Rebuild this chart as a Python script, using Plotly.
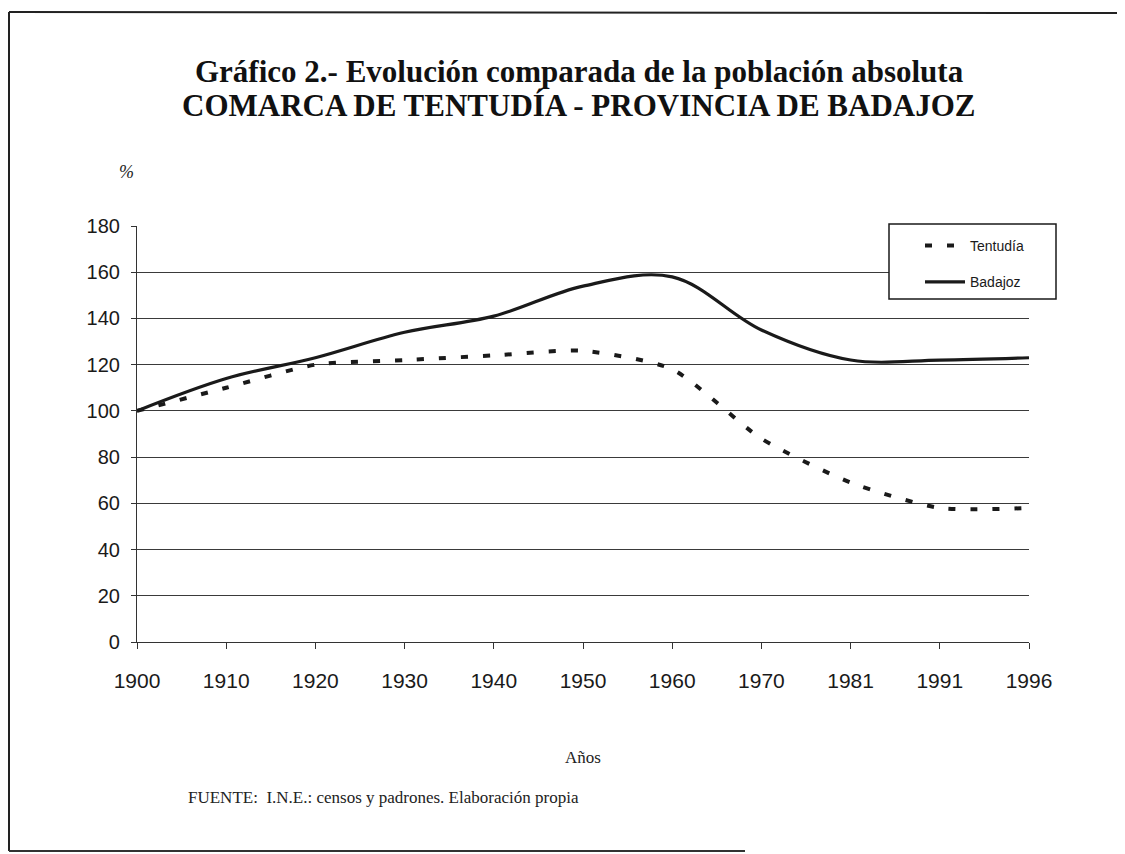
import plotly.graph_objects as go

# ---- data ----
years = ["1900", "1910", "1920", "1930", "1940", "1950", "1960", "1970", "1981", "1991", "1996"]
tentudia = [100, 110, 120, 122, 124, 126, 118, 88, 69, 58, 58]
badajoz = [100, 114, 123, 134, 141, 154, 158, 135, 122, 122, 123]
y_ticks = [0, 20, 40, 60, 80, 100, 120, 140, 160, 180]

# page has an 8px body margin; all positions below are in screenshot pixels
OFF = 8
W, H = 1125 - OFF, 854 - OFF
L, R, T, B = 137, 1029, 226, 642  # plot area (screenshot pixels)


def px(x):
    return (x - L) / (R - L)


def py(y):
    return (B - y) / (B - T)


fig = go.Figure()
fig.add_trace(go.Scatter(
    x=years, y=tentudia, name="Tentudía", mode="lines", legendgroup="t",
    line=dict(color="#1a1a1a", width=4, dash="7px,15px", shape="spline", smoothing=0.65),
    cliponaxis=False,
))
fig.add_trace(go.Scatter(
    x=years, y=badajoz, name="Badajoz", mode="lines", legendgroup="b",
    line=dict(color="#1a1a1a", width=3.2, shape="spline", smoothing=1.0),
    cliponaxis=False,
))

serif = "Liberation Serif, Times New Roman, serif"
sans = "Liberation Sans, Arial, sans-serif"

fig.update_layout(
    width=W, height=H,
    margin=dict(l=L - OFF, r=W - (R - OFF), t=T - OFF, b=H - (B - OFF), pad=0),
    paper_bgcolor="white", plot_bgcolor="white",
    showlegend=True,
    legend=dict(
        x=px(920), y=py(230), xanchor="left", yanchor="top",
        bgcolor="rgba(0,0,0,0)", borderwidth=0,
        font=dict(family=sans, size=14, color="#1a1a1a"),
        itemwidth=40, tracegroupgap=15,
    ),
    xaxis=dict(
        type="category", range=[0, 10], showgrid=False,
        showline=True, linecolor="#333", linewidth=1.2,
        ticks="outside", ticklen=6, tickcolor="#333", ticklabelstandoff=14,
        tickfont=dict(family=sans, size=21, color="#1a1a1a"), zeroline=False, fixedrange=True,
    ),
    yaxis=dict(
        range=[0, 180], tickvals=y_ticks, showgrid=True, gridcolor="#3a3a3a", gridwidth=1,
        showline=True, linecolor="#333", linewidth=1.2,
        ticks="outside", ticklen=5, tickcolor="#333", ticklabelstandoff=7,
        tickfont=dict(family=sans, size=20, color="#1a1a1a"), zeroline=False, fixedrange=True,
    ),
    annotations=[
        dict(text="<b>Gráfico 2.- Evolución comparada de la población absoluta</b>",
             x=px(579), y=py(71), xref="paper", yref="paper", showarrow=False,
             xanchor="center", yanchor="middle",
             font=dict(family=serif, size=31, color="#111")),
        dict(text="<b>COMARCA DE TENTUDÍA - PROVINCIA DE BADAJOZ</b>",
             x=px(578), y=py(106), xref="paper", yref="paper", showarrow=False,
             xanchor="center", yanchor="middle",
             font=dict(family=serif, size=31, color="#111")),
        dict(text="<i>%</i>", x=px(126), y=py(172), xref="paper", yref="paper", showarrow=False,
             xanchor="center", yanchor="middle",
             font=dict(family=serif, size=18, color="#222")),
        dict(text="Años", x=px(583), y=py(757), xref="paper", yref="paper", showarrow=False,
             xanchor="center", yanchor="middle",
             font=dict(family=serif, size=17, color="#222")),
        dict(text="FUENTE:  I.N.E.: censos y padrones. Elaboración propia",
             x=px(186), y=py(797), xref="paper", yref="paper", showarrow=False,
             xanchor="left", yanchor="middle",
             font=dict(family=serif, size=17, color="#222")),
    ],
    shapes=[
        # page frame (top, left, bottom)
        dict(type="line", xref="paper", yref="paper", x0=px(9), x1=px(1125), y0=py(12), y1=py(13),
             line=dict(color="#222", width=2)),
        dict(type="line", xref="paper", yref="paper", x0=px(9), x1=px(9), y0=py(12), y1=py(851),
             line=dict(color="#222", width=2)),
        dict(type="line", xref="paper", yref="paper", x0=px(9), x1=px(745), y0=py(851), y1=py(851),
             line=dict(color="#333", width=2)),
        # legend box
        dict(type="rect", xref="paper", yref="paper",
             x0=px(889), x1=px(1056), y0=py(299), y1=py(224),
             line=dict(color="#1a1a1a", width=1.5), fillcolor="white", layer="above"),
    ],
)

fig.write_html("out.html")
